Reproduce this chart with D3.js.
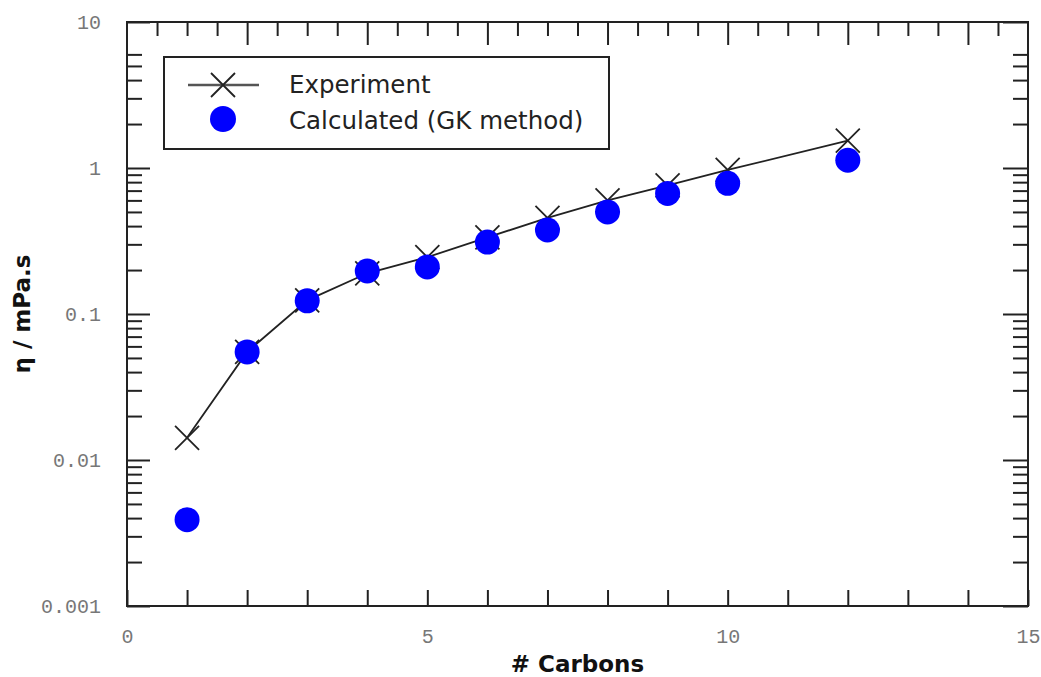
<!DOCTYPE html>
<html>
<head>
<meta charset="utf-8">
<script src="https://cdn.jsdelivr.net/npm/d3@7"></script>
<style>
    body { margin: 0; background: #fff; }
    .tick-label text { font-family: "Liberation Mono", monospace; font-size: 20px; fill: #777; }
    .axis-title { font-family: "DejaVu Sans", sans-serif; font-size: 23px; font-weight: bold; fill: #111; }
    .legend-text { font-family: "DejaVu Sans", sans-serif; font-size: 24.5px; fill: #222; }
</style>
</head>
<body>
<svg id="chart" width="1041" height="677"></svg>
<script>
// data
var carbonsExp = [1, 2, 3, 4, 5, 6, 7, 8, 9, 10, 12];
var viscExp = [0.0142, 0.055, 0.124, 0.19, 0.245, 0.335, 0.455, 0.6, 0.76, 0.97, 1.54];
var carbonsCalc = [1, 2, 3, 4, 5, 6, 7, 8, 9, 10, 12];
var viscCalc = [0.0039, 0.055, 0.123, 0.197, 0.21, 0.311, 0.376, 0.5, 0.67, 0.785, 1.13];

var xTicks = d3.range(0, 16, 1);
var xLabels = [0, 5, 10, 15];
var topMajor = [2, 4, 6, 8, 10, 12, 14];
var topMinor = d3.range(0.5, 15, 0.5).filter(function (v) { return v % 2 !== 0; });
var yMajor = [10, 1, 0.1, 0.01, 0.001];
var yLabels = ["10", "1", "0.1", "0.01", "0.001"];
var yMinor = [];
[0.001, 0.01, 0.1, 1].forEach(function (d) {
    for (var k = 2; k <= 9; k++) {
        if (k * d <= 6.01) yMinor.push(k * d);
    }
});

var plotLeft = 127, plotRight = 1028, plotTop = 22, plotBottom = 606;
var svg = d3.select("#chart");

var x = d3.scaleLinear().domain([0, 15]).range([plotLeft, plotRight]);
var y = d3.scaleLog().domain([0.001, 10]).range([plotBottom, plotTop]);

function styleAxis(g) {
    g.select(".domain").remove();
    g.selectAll(".tick line").attr("stroke", "#222").attr("stroke-width", 2);
}

// bottom
svg.append("g").attr("class", "tick-label")
    .attr("transform", "translate(0," + plotBottom + ")")
    .call(d3.axisBottom(x).tickValues(xTicks).tickSize(-16).tickPadding(23)
        .tickFormat(function (d) { return xLabels.indexOf(d) >= 0 ? d : ""; }))
    .call(styleAxis);

// top
svg.append("g")
    .attr("transform", "translate(0," + plotTop + ")")
    .call(d3.axisTop(x).tickValues(topMinor).tickSize(-14).tickFormat(""))
    .call(styleAxis);
svg.append("g")
    .attr("transform", "translate(0," + plotTop + ")")
    .call(d3.axisTop(x).tickValues(topMajor).tickSize(-23).tickFormat(""))
    .call(styleAxis);

// left
svg.append("g").attr("class", "tick-label")
    .attr("transform", "translate(" + plotLeft + ",0)")
    .call(d3.axisLeft(y).tickValues(yMajor).tickSize(-23).tickPadding(26)
        .tickFormat(function (d, i) { return yLabels[i]; }))
    .call(styleAxis);
svg.append("g")
    .attr("transform", "translate(" + plotLeft + ",0)")
    .call(d3.axisLeft(y).tickValues(yMinor).tickSize(-15).tickFormat(""))
    .call(styleAxis);

// right
svg.append("g")
    .attr("transform", "translate(" + plotRight + ",0)")
    .call(d3.axisRight(y).tickValues(yMajor).tickSize(-25).tickFormat(""))
    .call(styleAxis);
svg.append("g")
    .attr("transform", "translate(" + plotRight + ",0)")
    .call(d3.axisRight(y).tickValues(yMinor).tickSize(-15).tickFormat(""))
    .call(styleAxis);

// frame
svg.append("rect")
    .attr("x", plotLeft).attr("y", plotTop)
    .attr("width", plotRight - plotLeft).attr("height", plotBottom - plotTop)
    .attr("fill", "none").attr("stroke", "#222").attr("stroke-width", 2);

// axis titles
svg.append("text").attr("class", "axis-title")
    .attr("x", (plotLeft + plotRight) / 2).attr("y", 672)
    .attr("text-anchor", "middle")
    .text("# Carbons");
svg.append("text").attr("class", "axis-title")
    .attr("transform", "translate(30," + ((plotTop + plotBottom) / 2) + ") rotate(-90)")
    .attr("text-anchor", "middle")
    .text("η / mPa.s");

function xMark(sel, size) {
    return sel.attr("d", "M" + (-size) + "," + (-size) + "L" + size + "," + size +
        "M" + (-size) + "," + size + "L" + size + "," + (-size))
        .attr("stroke", "#222").attr("stroke-width", 1.8).attr("fill", "none");
}

var expData = carbonsExp.map(function (c, i) { return [c, viscExp[i]]; });
var calcData = carbonsCalc.map(function (c, i) { return [c, viscCalc[i]]; });

var line = d3.line()
    .x(function (d) { return x(d[0]); })
    .y(function (d) { return y(d[1]); });

svg.append("path")
    .datum(expData)
    .attr("d", line)
    .attr("fill", "none")
    .attr("stroke", "#222")
    .attr("stroke-width", 1.8);

svg.append("g").selectAll("path")
    .data(expData)
    .enter().append("path")
    .attr("transform", function (d) { return "translate(" + x(d[0]) + "," + y(d[1]) + ")"; })
    .call(xMark, 12);

svg.append("g").selectAll("circle")
    .data(calcData)
    .enter().append("circle")
    .attr("cx", function (d) { return x(d[0]); })
    .attr("cy", function (d) { return y(d[1]); })
    .attr("r", 12.5)
    .attr("fill", "#0000ff");

// legend
var legend = svg.append("g");
legend.append("rect")
    .attr("x", 164).attr("y", 57).attr("width", 445).attr("height", 92)
    .attr("fill", "#fff").attr("stroke", "#222").attr("stroke-width", 2);
legend.append("line")
    .attr("x1", 188).attr("x2", 259).attr("y1", 85).attr("y2", 85)
    .attr("stroke", "#555").attr("stroke-width", 2.5);
legend.append("path")
    .attr("transform", "translate(223,85)")
    .call(xMark, 12);
legend.append("circle")
    .attr("cx", 223).attr("cy", 119).attr("r", 13)
    .attr("fill", "#0000ff");
legend.append("text").attr("class", "legend-text")
    .attr("x", 289).attr("y", 93).text("Experiment");
legend.append("text").attr("class", "legend-text")
    .attr("x", 289).attr("y", 129).text("Calculated (GK method)");
</script>
</body>
</html>
